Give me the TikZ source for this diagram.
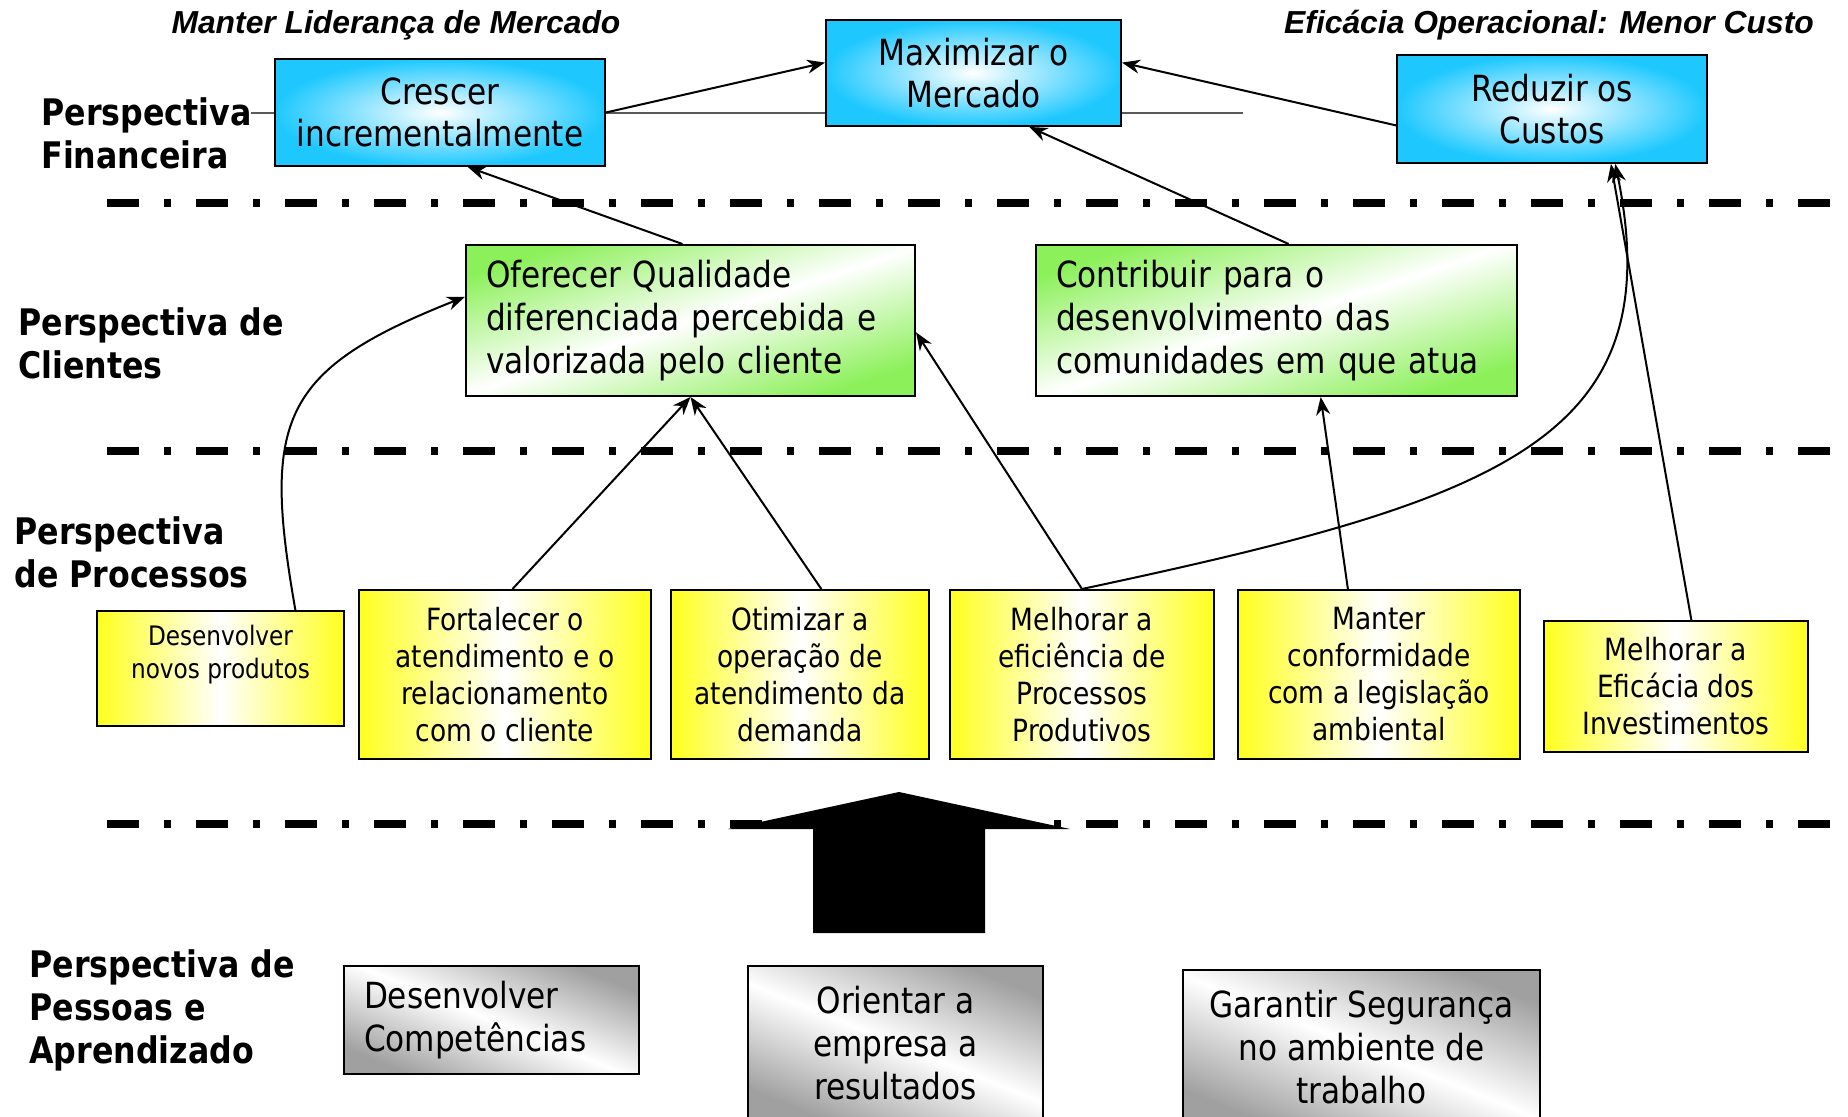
\documentclass[tikz,border=0pt]{standalone}
\usepackage{fontspec}
\setmainfont{DejaVu Sans}[FakeStretch=0.865]
\newfontfamily\destaquefont{Liberation Sans}
\usetikzlibrary{arrows.meta}

\definecolor{azul}{RGB}{30,200,255}
\definecolor{verde}{RGB}{140,240,90}
\definecolor{amarelo}{RGB}{255,255,30}
\definecolor{cinza}{RGB}{160,160,160}
\definecolor{linha}{RGB}{90,90,90}

\newcommand{\fntbox}{\fontsize{18pt}{21.3pt}\selectfont}
\newcommand{\fntproc}{\fontsize{15.3pt}{18.5pt}\selectfont}
\newcommand{\fntsmall}{\fontsize{13.4pt}{16.5pt}\selectfont}
\newcommand{\fntlabel}{\fontsize{18.3pt}{21.5pt}\selectfont\bfseries}
\newcommand{\fnttop}{\fontsize{15.9pt}{19pt}\selectfont\destaquefont\bfseries\itshape}

\tikzset{
  caixa/.style={draw=black, line width=1pt, inner sep=0pt},
  fin/.style={caixa, inner color=white, outer color=azul, font=\fntbox, align=center},
  cli/.style={caixa, left color=verde, right color=verde, middle color=white, shading angle=18, font=\fntbox, align=left, inner xsep=10pt},
  proc/.style={caixa, left color=amarelo, right color=amarelo, middle color=white, font=\fntproc, align=center},
  pess/.style={caixa, left color=cinza, right color=cinza, middle color=white, shading angle=-22, font=\fntbox},
  persp/.style={anchor=west, font=\fntlabel, align=left, inner sep=0pt},
  seta/.style={->, line width=1pt},
  divisa/.style={line width=4pt, dash pattern=on 16pt off 12.5pt on 3.5pt off 12.5pt},
}

\begin{document}
\begin{tikzpicture}[x=0.5pt, y=-0.5pt, >={Stealth[length=9pt,width=7pt]}]
\useasboundingbox (0,0) rectangle (1848,1117);

% linhas divisorias
\foreach \y in {203,451,824}
    \draw[divisa] (107,\y) -- (1848,\y);

% seta grande
\fill[black] (813,933) -- (813,829) -- (728,829) -- (899,792) -- (1070,829) -- (985,829) -- (985,933) -- cycle;

\coordinate (la) at (251,113);
\coordinate (lb) at (1243,113);
\draw[linha, line width=1pt] (la) -- (lb);

% perspectivas
\node[persp] (pfin) at (41,133) {Perspectiva\\Financeira};
\node[persp] (pcli) at (18,343) {Perspectiva de\\Clientes};
\node[persp] (ppro) at (14,552) {Perspectiva\\de Processos};
\node[persp] (ppes) at (29,1010) {Perspectiva de\\Pessoas e\\Aprendizado};

\node[font=\fnttop] (lider) at (396,25) {Manter Lideran\c{c}a de Mercado};
\node[font=\fnttop] (efop) at (1549,25) {Efic\'acia Operacional: Menor Custo};

% financeira
\node[fin, minimum width=165pt, minimum height=53.5pt] (cres) at (440,112.5) {Crescer\\incrementalmente};
\node[fin, minimum width=147.5pt, minimum height=53pt] (maxi) at (973.5,73) {Maximizar o\\Mercado};
\node[fin, minimum width=155pt, minimum height=54pt] (redu) at (1552,109) {Reduzir os\\Custos};

% clientes
\node[cli, minimum width=224.5pt, minimum height=75.5pt, text width=204.5pt] (ofer) at (690.5,320.5) {Oferecer Qualidade\\diferenciada percebida e\\valorizada pelo cliente};
\node[cli, minimum width=240.5pt, minimum height=75.5pt, text width=220.5pt] (cont) at (1276.5,320.5) {Contribuir para o\\desenvolvimento das\\comunidades em que atua};

% processos
\node[proc, font=\fntsmall, minimum width=123.5pt, minimum height=57.5pt, text depth=17pt] (novo) at (220.5,668.5) {Desenvolver\\novos produtos};
\node[proc, minimum width=146pt, minimum height=84.5pt] (fort) at (505,674.5) {Fortalecer o\\atendimento e o\\relacionamento\\com o cliente};
\node[proc, minimum width=129pt, minimum height=84.5pt] (otim) at (800,674.5) {Otimizar a\\opera\c{c}\~ao de\\atendimento da\\demanda};
\node[proc, minimum width=132pt, minimum height=84.5pt] (efic) at (1082,674.5) {Melhorar a\\efici\^encia de\\Processos\\Produtivos};
\node[proc, minimum width=141pt, minimum height=84.5pt] (mant) at (1379,674.5) {Manter\\conformidade\\com a legisla\c{c}\~ao\\ambiental};
\node[proc, minimum width=132pt, minimum height=65.5pt] (inve) at (1676,686.5) {Melhorar a\\Efic\'acia dos\\Investimentos};

% pessoas
\node[pess, minimum width=147.5pt, minimum height=54pt, align=left, text width=127.5pt, inner xsep=10pt] (comp) at (491.5,1020) {Desenvolver\\Compet\^encias};
\node[pess, minimum width=147.5pt, minimum height=77pt, align=center] (orie) at (895.5,1043) {Orientar a\\empresa a\\resultados};
\node[pess, minimum width=178.5pt, minimum height=77pt, align=center] (segu) at (1361.5,1047) {Garantir Seguran\c{c}a\\no ambiente de\\trabalho};

% ligacoes
\draw[seta] (cres.east) -- (maxi.176);
\draw[seta] (redu.186) -- (maxi.4);
\draw[seta] (cont.81) -- (maxi.-44);
\draw[seta] (ofer.96) -- (cres.-63);
\draw[seta] (novo.38) .. controls (262,420) and (280,370) .. (ofer.174);
\draw[seta] (fort.85) -- (ofer.south);
\draw[seta] (otim.76) -- (ofer.south);
\draw[seta] (efic.north) -- (ofer.-3);
\draw[seta] (efic.north) .. controls (1500,500) and (1672,440) .. (redu.-41);
\draw[seta] (mant.110) -- (cont.-60);
\draw[seta] (inve.77) -- (redu.-43);
\end{tikzpicture}
\end{document}
